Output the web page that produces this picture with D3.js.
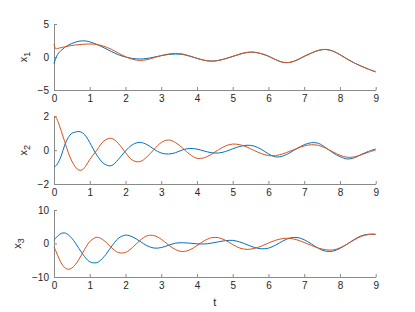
<!DOCTYPE html>
<html>
<head>
<meta charset="utf-8">
<script src="https://cdn.jsdelivr.net/npm/d3@7"></script>
<style>
  body { margin: 0; background: #fff; }
  svg { display: block; }
  .axis text { font-family: "Liberation Sans", Arial, sans-serif; font-size: 10px; fill: #262626; }
  .axis path, .axis line { stroke: #8a8a8a; stroke-width: 1; }
</style>
</head>
<body>
<svg id="chart" width="415" height="312"></svg>
<script>
// ---- data ----
const t = [0, 0.05, 0.1, 0.2, 0.3, 0.4, 0.5, 0.6, 0.7, 0.8, 0.9, 1.0,
  1.2, 1.4, 1.6, 1.8, 2.0, 2.2, 2.4, 2.6, 2.8, 3.0, 3.2, 3.4, 3.6, 3.8,
  4.0, 4.2, 4.4, 4.6, 4.8, 5.0, 5.2, 5.4, 5.6, 5.8, 6.0, 6.2, 6.4, 6.6,
  6.8, 7.0, 7.2, 7.4, 7.6, 7.8, 8.0, 8.2, 8.4, 8.6, 8.8, 9.0];

const x1True = [-1.0, -0.2, 0.4, 1.0, 1.45, 1.8, 2.05, 2.25, 2.4, 2.45, 2.42, 2.3,
  1.9, 1.4, 0.85, 0.35, 0.0, -0.22, -0.3, -0.22, -0.02, 0.2, 0.38, 0.45, 0.38, 0.12,
  -0.2, -0.48, -0.62, -0.52, -0.25, 0.08, 0.42, 0.68, 0.72, 0.5, 0.12, -0.4, -0.8, -0.82,
  -0.45, 0.1, 0.6, 1.0, 1.15, 0.9, 0.35, -0.3, -0.9, -1.4, -1.85, -2.25];
const x1Est = [1.9, 1.25, 1.3, 1.42, 1.55, 1.65, 1.75, 1.82, 1.88, 1.92, 1.95, 1.97,
  1.9, 1.62, 1.18, 0.6, 0.05, -0.35, -0.52, -0.4, -0.1, 0.22, 0.45, 0.55, 0.45, 0.15,
  -0.2, -0.5, -0.63, -0.52, -0.25, 0.1, 0.45, 0.7, 0.72, 0.5, 0.12, -0.4, -0.8, -0.82,
  -0.45, 0.1, 0.6, 1.0, 1.15, 0.9, 0.35, -0.3, -0.9, -1.4, -1.85, -2.25];

const x2True = [-0.97, -0.93, -0.8, -0.35, 0.3, 0.75, 1.0, 1.07, 1.1, 1.02, 0.8, 0.45,
  -0.3, -0.8, -0.92, -0.55, -0.05, 0.33, 0.46, 0.33, 0.05, -0.17, -0.23, -0.15, 0.02, 0.1,
  0.06, -0.05, -0.15, -0.17, -0.08, 0.08, 0.22, 0.29, 0.24, 0.05, -0.22, -0.4, -0.35, -0.15,
  0.1, 0.32, 0.44, 0.4, 0.15, -0.15, -0.38, -0.52, -0.45, -0.25, -0.07, 0.07];
const x2Est = [2.0, 1.95, 1.75, 1.15, 0.5, -0.15, -0.65, -1.0, -1.18, -1.15, -0.9, -0.55,
  0.0, 0.55, 0.7, 0.4, -0.15, -0.6, -0.68, -0.4, 0.05, 0.45, 0.6, 0.45, 0.12, -0.25,
  -0.48, -0.45, -0.25, 0.02, 0.25, 0.36, 0.32, 0.18, -0.02, -0.2, -0.32, -0.32, -0.22, -0.06,
  0.1, 0.25, 0.32, 0.28, 0.12, -0.1, -0.3, -0.42, -0.4, -0.27, -0.12, 0.01];

const x3True = [1.0, 1.6, 2.2, 3.0, 3.15, 2.6, 1.55, 0.12, -1.53, -3.12, -4.51, -5.47,
  -5.72, -3.93, -1.03, 1.53, 2.5, 1.95, 0.69, -0.66, -1.37, -1.22, -0.54, 0.1, 0.22, 0.1,
  -0.1, -0.15, 0.1, 0.5, 0.85, 0.93, 0.45, -0.35, -1.15, -1.58, -1.39, -0.48, 0.73, 1.64,
  1.8, 1.13, -0.13, -1.46, -2.29, -2.29, -1.45, -0.2, 1.2, 2.3, 2.75, 2.72];
const x3Est = [-1.0, -2.2, -3.5, -5.8, -7.2, -7.7, -7.33, -6.27, -4.7, -2.83, -0.97, 0.56,
  1.85, 0.88, -1.16, -2.71, -2.66, -1.17, 0.88, 2.29, 2.35, 1.27, -0.39, -1.82, -2.4, -1.89,
  -0.64, 0.79, 1.72, 1.74, 0.93, -0.31, -1.37, -1.75, -1.47, -0.78, 0.13, 0.96, 1.47, 1.55,
  1.08, 0.31, -0.58, -1.37, -1.86, -1.93, -1.3, -0.2, 1.08, 2.14, 2.7, 2.75];

const xTicks = [0, 1, 2, 3, 4, 5, 6, 7, 8, 9];
const panels = [
  { sub: "1", domain: [-5, 5], ticks: [-5, 0, 5], series: [x1True, x1Est] },
  { sub: "2", domain: [-2, 2], ticks: [-2, 0, 2], series: [x2True, x2Est] },
  { sub: "3", domain: [-10, 10], ticks: [-10, 0, 10], series: [x3True, x3Est] }
];
const colors = ["#0072BD", "#D95319"];

// ---- layout ----
const svg = d3.select("#chart");
const left = 54, right = 375.7;
const tops = [24, 116.3, 210], bottoms = [90, 184, 277];
const ylabelX = [27, 27, 21];

const x = d3.scaleLinear().domain([0, 9]).range([left, right]);

panels.forEach((p, i) => {
  const y = d3.scaleLinear().domain(p.domain).range([bottoms[i], tops[i]]);
  const g = svg.append("g");

  g.append("g").attr("class", "axis")
    .attr("transform", `translate(0,${bottoms[i]})`)
    .call(d3.axisBottom(x).tickValues(xTicks).tickFormat(d3.format("d"))
      .tickSizeInner(-3).tickSizeOuter(0).tickPadding(5));

  g.append("g").attr("class", "axis")
    .attr("transform", `translate(${left},0)`)
    .call(d3.axisLeft(y).tickValues(p.ticks).tickFormat(d3.format("d"))
      .tickSizeInner(-3).tickSizeOuter(0).tickPadding(5));

  const line = d3.line()
    .x((d, k) => x(t[k]))
    .y(d => y(d))
    .curve(d3.curveCatmullRom.alpha(0.5));

  p.series.forEach((s, j) => {
    g.append("path")
      .datum(s)
      .attr("fill", "none")
      .attr("stroke", colors[j])
      .attr("stroke-width", 1)
      .attr("d", line);
  });

  const cy = (tops[i] + bottoms[i]) / 2;
  const lab = g.append("text")
    .attr("transform", `translate(${ylabelX[i]},${cy}) rotate(-90)`)
    .attr("text-anchor", "middle")
    .attr("font-family", "Liberation Sans, Arial, sans-serif")
    .attr("font-size", 11)
    .attr("fill", "#262626");
  lab.append("tspan").text("x");
  lab.append("tspan").attr("dy", 3).attr("font-size", 9).text(p.sub);
});

svg.append("text")
  .attr("x", (left + right) / 2)
  .attr("y", 306)
  .attr("text-anchor", "middle")
  .attr("font-family", "Liberation Sans, Arial, sans-serif")
  .attr("font-size", 11)
  .attr("fill", "#262626")
  .text("t");
</script>
</body>
</html>
